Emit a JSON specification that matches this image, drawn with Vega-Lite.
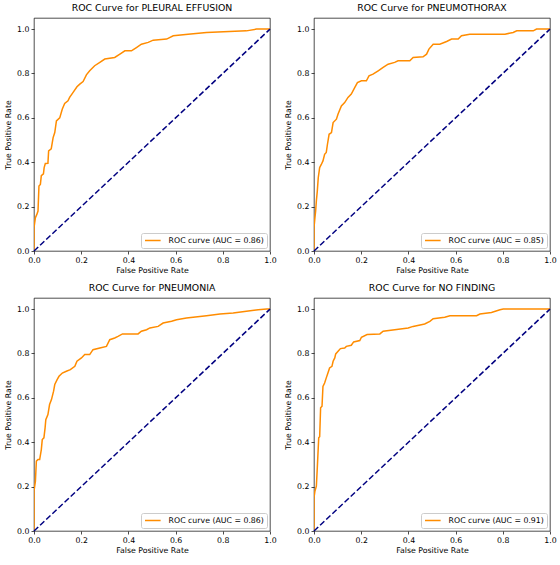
{
  "$schema": "https://vega.github.io/schema/vega-lite/v6.json",
  "background": "white",
  "padding": {"left": 4, "top": 3, "right": 5, "bottom": 5},
  "config": {
    "font": "DejaVu Sans",
    "view": {"stroke": "#000000", "strokeWidth": 0.7},
    "title": {"font": "DejaVu Sans", "fontSize": 9.35, "fontWeight": "normal", "color": "#000000", "anchor": "middle", "baseline": "alphabetic", "offset": 4.7},
    "axis": {
      "grid": false,
      "domain": false,
      "tickColor": "#000000",
      "tickSize": 3,
      "tickWidth": 0.7,
      "labelFont": "DejaVu Sans",
      "labelFontSize": 7.8,
      "labelColor": "#000000",
      "labelPadding": 2,
      "labelFlush": false,
      "titleFont": "DejaVu Sans",
      "titleFontSize": 7.8,
      "titleFontWeight": "normal",
      "titleColor": "#000000",
      "format": ".1f",
      "values": [0, 0.2, 0.4, 0.6, 0.8, 1.0]
    },
    "axisX": {"titlePadding": 3},
    "axisY": {"titlePadding": 4},
    "legend": {
      "orient": "bottom-right",
      "offset": 3,
      "padding": 3,
      "strokeColor": "#cccccc",
      "fillColor": "rgba(255,255,255,0.8)",
      "cornerRadius": 2,
      "labelFont": "DejaVu Sans",
      "labelFontSize": 7.8,
      "labelColor": "#000000",
      "labelOffset": 15.6,
      "symbolType": "M-1,0H3.46",
      "symbolSize": 49,
      "symbolStrokeWidth": 1.5,
      "symbolFillColor": "transparent",
      "title": null
    }
  },
  "datasets": {
    "chance": [{"fpr": 0, "tpr": 0}, {"fpr": 1, "tpr": 1}],
    "pleural": [
      {"fpr": 0, "tpr": 0}, {"fpr": 0, "tpr": 0.105}, {"fpr": 0.006, "tpr": 0.15}, {"fpr": 0.012, "tpr": 0.165},
      {"fpr": 0.017, "tpr": 0.18}, {"fpr": 0.021, "tpr": 0.293}, {"fpr": 0.027, "tpr": 0.3}, {"fpr": 0.031, "tpr": 0.34},
      {"fpr": 0.04, "tpr": 0.348}, {"fpr": 0.043, "tpr": 0.376}, {"fpr": 0.048, "tpr": 0.394}, {"fpr": 0.059, "tpr": 0.395},
      {"fpr": 0.062, "tpr": 0.451}, {"fpr": 0.073, "tpr": 0.46}, {"fpr": 0.081, "tpr": 0.511}, {"fpr": 0.088, "tpr": 0.534},
      {"fpr": 0.095, "tpr": 0.586}, {"fpr": 0.109, "tpr": 0.6}, {"fpr": 0.12, "tpr": 0.64}, {"fpr": 0.13, "tpr": 0.665},
      {"fpr": 0.144, "tpr": 0.677}, {"fpr": 0.151, "tpr": 0.692}, {"fpr": 0.165, "tpr": 0.714}, {"fpr": 0.182, "tpr": 0.74},
      {"fpr": 0.194, "tpr": 0.752}, {"fpr": 0.208, "tpr": 0.764}, {"fpr": 0.222, "tpr": 0.794}, {"fpr": 0.236, "tpr": 0.812},
      {"fpr": 0.257, "tpr": 0.835}, {"fpr": 0.279, "tpr": 0.85}, {"fpr": 0.3, "tpr": 0.865}, {"fpr": 0.342, "tpr": 0.872},
      {"fpr": 0.364, "tpr": 0.887}, {"fpr": 0.385, "tpr": 0.902}, {"fpr": 0.413, "tpr": 0.902}, {"fpr": 0.434, "tpr": 0.917},
      {"fpr": 0.455, "tpr": 0.932}, {"fpr": 0.484, "tpr": 0.94}, {"fpr": 0.505, "tpr": 0.95}, {"fpr": 0.562, "tpr": 0.955},
      {"fpr": 0.59, "tpr": 0.97}, {"fpr": 0.653, "tpr": 0.977}, {"fpr": 0.731, "tpr": 0.985}, {"fpr": 0.9, "tpr": 0.992},
      {"fpr": 0.943, "tpr": 1.0}, {"fpr": 1, "tpr": 1.0}
    ],
    "pneumothorax": [
      {"fpr": 0, "tpr": 0}, {"fpr": 0, "tpr": 0.105}, {"fpr": 0.004, "tpr": 0.15}, {"fpr": 0.007, "tpr": 0.18},
      {"fpr": 0.01, "tpr": 0.226}, {"fpr": 0.014, "tpr": 0.27}, {"fpr": 0.018, "tpr": 0.33}, {"fpr": 0.024, "tpr": 0.376},
      {"fpr": 0.031, "tpr": 0.39}, {"fpr": 0.038, "tpr": 0.406}, {"fpr": 0.045, "tpr": 0.436}, {"fpr": 0.052, "tpr": 0.444},
      {"fpr": 0.057, "tpr": 0.481}, {"fpr": 0.064, "tpr": 0.526}, {"fpr": 0.074, "tpr": 0.534}, {"fpr": 0.081, "tpr": 0.579},
      {"fpr": 0.095, "tpr": 0.594}, {"fpr": 0.102, "tpr": 0.617}, {"fpr": 0.116, "tpr": 0.654}, {"fpr": 0.13, "tpr": 0.669},
      {"fpr": 0.144, "tpr": 0.692}, {"fpr": 0.158, "tpr": 0.707}, {"fpr": 0.173, "tpr": 0.737}, {"fpr": 0.184, "tpr": 0.759},
      {"fpr": 0.201, "tpr": 0.767}, {"fpr": 0.222, "tpr": 0.767}, {"fpr": 0.233, "tpr": 0.789}, {"fpr": 0.25, "tpr": 0.797},
      {"fpr": 0.272, "tpr": 0.812}, {"fpr": 0.293, "tpr": 0.827}, {"fpr": 0.314, "tpr": 0.842}, {"fpr": 0.342, "tpr": 0.85},
      {"fpr": 0.356, "tpr": 0.857}, {"fpr": 0.406, "tpr": 0.857}, {"fpr": 0.42, "tpr": 0.872}, {"fpr": 0.462, "tpr": 0.875},
      {"fpr": 0.477, "tpr": 0.887}, {"fpr": 0.487, "tpr": 0.91}, {"fpr": 0.505, "tpr": 0.932}, {"fpr": 0.533, "tpr": 0.932},
      {"fpr": 0.562, "tpr": 0.944}, {"fpr": 0.583, "tpr": 0.955}, {"fpr": 0.611, "tpr": 0.955}, {"fpr": 0.625, "tpr": 0.97},
      {"fpr": 0.66, "tpr": 0.977}, {"fpr": 0.809, "tpr": 0.977}, {"fpr": 0.844, "tpr": 0.985}, {"fpr": 0.859, "tpr": 0.992},
      {"fpr": 0.929, "tpr": 0.992}, {"fpr": 0.943, "tpr": 1.0}, {"fpr": 1, "tpr": 1.0}
    ],
    "pneumonia": [
      {"fpr": 0, "tpr": 0}, {"fpr": 0, "tpr": 0.18}, {"fpr": 0.006, "tpr": 0.225}, {"fpr": 0.01, "tpr": 0.315},
      {"fpr": 0.017, "tpr": 0.322}, {"fpr": 0.024, "tpr": 0.322}, {"fpr": 0.031, "tpr": 0.367}, {"fpr": 0.035, "tpr": 0.412},
      {"fpr": 0.042, "tpr": 0.42}, {"fpr": 0.047, "tpr": 0.465}, {"fpr": 0.05, "tpr": 0.502}, {"fpr": 0.059, "tpr": 0.525},
      {"fpr": 0.066, "tpr": 0.57}, {"fpr": 0.074, "tpr": 0.592}, {"fpr": 0.083, "tpr": 0.63}, {"fpr": 0.088, "tpr": 0.66},
      {"fpr": 0.098, "tpr": 0.682}, {"fpr": 0.106, "tpr": 0.697}, {"fpr": 0.12, "tpr": 0.712}, {"fpr": 0.137, "tpr": 0.72},
      {"fpr": 0.154, "tpr": 0.727}, {"fpr": 0.173, "tpr": 0.742}, {"fpr": 0.182, "tpr": 0.765}, {"fpr": 0.201, "tpr": 0.78},
      {"fpr": 0.215, "tpr": 0.795}, {"fpr": 0.236, "tpr": 0.795}, {"fpr": 0.25, "tpr": 0.817}, {"fpr": 0.279, "tpr": 0.825},
      {"fpr": 0.307, "tpr": 0.832}, {"fpr": 0.321, "tpr": 0.862}, {"fpr": 0.342, "tpr": 0.87}, {"fpr": 0.356, "tpr": 0.877},
      {"fpr": 0.375, "tpr": 0.888}, {"fpr": 0.441, "tpr": 0.888}, {"fpr": 0.455, "tpr": 0.9}, {"fpr": 0.477, "tpr": 0.907},
      {"fpr": 0.491, "tpr": 0.915}, {"fpr": 0.526, "tpr": 0.922}, {"fpr": 0.547, "tpr": 0.937}, {"fpr": 0.583, "tpr": 0.945},
      {"fpr": 0.604, "tpr": 0.952}, {"fpr": 0.646, "tpr": 0.96}, {"fpr": 0.731, "tpr": 0.97}, {"fpr": 0.788, "tpr": 0.978},
      {"fpr": 0.844, "tpr": 0.982}, {"fpr": 0.9, "tpr": 0.99}, {"fpr": 0.95, "tpr": 0.997}, {"fpr": 0.986, "tpr": 1.0},
      {"fpr": 1, "tpr": 1.0}
    ],
    "noFinding": [
      {"fpr": 0, "tpr": 0}, {"fpr": 0, "tpr": 0.15}, {"fpr": 0.004, "tpr": 0.18}, {"fpr": 0.01, "tpr": 0.202},
      {"fpr": 0.014, "tpr": 0.285}, {"fpr": 0.02, "tpr": 0.42}, {"fpr": 0.024, "tpr": 0.425}, {"fpr": 0.028, "tpr": 0.555},
      {"fpr": 0.034, "tpr": 0.562}, {"fpr": 0.038, "tpr": 0.652}, {"fpr": 0.045, "tpr": 0.667}, {"fpr": 0.052, "tpr": 0.69},
      {"fpr": 0.059, "tpr": 0.712}, {"fpr": 0.066, "tpr": 0.735}, {"fpr": 0.076, "tpr": 0.742}, {"fpr": 0.081, "tpr": 0.765},
      {"fpr": 0.088, "tpr": 0.78}, {"fpr": 0.092, "tpr": 0.798}, {"fpr": 0.102, "tpr": 0.81}, {"fpr": 0.112, "tpr": 0.822},
      {"fpr": 0.13, "tpr": 0.825}, {"fpr": 0.137, "tpr": 0.832}, {"fpr": 0.158, "tpr": 0.837}, {"fpr": 0.168, "tpr": 0.852},
      {"fpr": 0.194, "tpr": 0.858}, {"fpr": 0.201, "tpr": 0.873}, {"fpr": 0.225, "tpr": 0.885}, {"fpr": 0.279, "tpr": 0.888},
      {"fpr": 0.293, "tpr": 0.9}, {"fpr": 0.342, "tpr": 0.907}, {"fpr": 0.399, "tpr": 0.915}, {"fpr": 0.42, "tpr": 0.922},
      {"fpr": 0.469, "tpr": 0.933}, {"fpr": 0.491, "tpr": 0.945}, {"fpr": 0.505, "tpr": 0.957}, {"fpr": 0.554, "tpr": 0.963},
      {"fpr": 0.576, "tpr": 0.97}, {"fpr": 0.689, "tpr": 0.97}, {"fpr": 0.703, "tpr": 0.978}, {"fpr": 0.752, "tpr": 0.985},
      {"fpr": 0.788, "tpr": 0.997}, {"fpr": 0.802, "tpr": 1.0}, {"fpr": 1, "tpr": 1.0}
    ]
  },
  "columns": 2,
  "spacing": {"row": 47, "column": 44},
  "bounds": "flush",
  "resolve": {"scale": {"color": "independent"}, "legend": {"color": "independent"}},
  "concat": [
    {
      "title": "ROC Curve for PLEURAL EFFUSION",
      "width": 236, "height": 233,
      "layer": [
        {
          "data": {"name": "pleural"},
          "mark": {"type": "line", "strokeWidth": 1.5, "clip": true},
          "encoding": {
            "x": {"field": "fpr", "type": "quantitative", "scale": {"domain": [0, 1], "nice": false, "zero": false}, "axis": {"title": "False Positive Rate"}},
            "y": {"field": "tpr", "type": "quantitative", "scale": {"domain": [0, 1.05], "nice": false, "zero": false}, "axis": {"title": "True Positive Rate"}},
            "color": {"datum": "ROC curve (AUC = 0.86)", "type": "nominal", "scale": {"range": ["#ff8c00"]}},
            "order": [{"field": "tpr"}, {"field": "fpr"}]
          }
        },
        {
          "data": {"name": "chance"},
          "mark": {"type": "line", "color": "#000080", "strokeWidth": 1.5, "strokeDash": [5.8, 2.6]},
          "encoding": {"x": {"field": "fpr", "type": "quantitative"}, "y": {"field": "tpr", "type": "quantitative"}}
        }
      ]
    },
    {
      "title": "ROC Curve for PNEUMOTHORAX",
      "width": 236, "height": 233,
      "layer": [
        {
          "data": {"name": "pneumothorax"},
          "mark": {"type": "line", "strokeWidth": 1.5, "clip": true},
          "encoding": {
            "x": {"field": "fpr", "type": "quantitative", "scale": {"domain": [0, 1], "nice": false, "zero": false}, "axis": {"title": "False Positive Rate"}},
            "y": {"field": "tpr", "type": "quantitative", "scale": {"domain": [0, 1.05], "nice": false, "zero": false}, "axis": {"title": "True Positive Rate"}},
            "color": {"datum": "ROC curve (AUC = 0.85)", "type": "nominal", "scale": {"range": ["#ff8c00"]}},
            "order": [{"field": "tpr"}, {"field": "fpr"}]
          }
        },
        {
          "data": {"name": "chance"},
          "mark": {"type": "line", "color": "#000080", "strokeWidth": 1.5, "strokeDash": [5.8, 2.6]},
          "encoding": {"x": {"field": "fpr", "type": "quantitative"}, "y": {"field": "tpr", "type": "quantitative"}}
        }
      ]
    },
    {
      "title": "ROC Curve for PNEUMONIA",
      "width": 236, "height": 233,
      "layer": [
        {
          "data": {"name": "pneumonia"},
          "mark": {"type": "line", "strokeWidth": 1.5, "clip": true},
          "encoding": {
            "x": {"field": "fpr", "type": "quantitative", "scale": {"domain": [0, 1], "nice": false, "zero": false}, "axis": {"title": "False Positive Rate"}},
            "y": {"field": "tpr", "type": "quantitative", "scale": {"domain": [0, 1.05], "nice": false, "zero": false}, "axis": {"title": "True Positive Rate"}},
            "color": {"datum": "ROC curve (AUC = 0.86)", "type": "nominal", "scale": {"range": ["#ff8c00"]}},
            "order": [{"field": "tpr"}, {"field": "fpr"}]
          }
        },
        {
          "data": {"name": "chance"},
          "mark": {"type": "line", "color": "#000080", "strokeWidth": 1.5, "strokeDash": [5.8, 2.6]},
          "encoding": {"x": {"field": "fpr", "type": "quantitative"}, "y": {"field": "tpr", "type": "quantitative"}}
        }
      ]
    },
    {
      "title": "ROC Curve for NO FINDING",
      "width": 236, "height": 233,
      "layer": [
        {
          "data": {"name": "noFinding"},
          "mark": {"type": "line", "strokeWidth": 1.5, "clip": true},
          "encoding": {
            "x": {"field": "fpr", "type": "quantitative", "scale": {"domain": [0, 1], "nice": false, "zero": false}, "axis": {"title": "False Positive Rate"}},
            "y": {"field": "tpr", "type": "quantitative", "scale": {"domain": [0, 1.05], "nice": false, "zero": false}, "axis": {"title": "True Positive Rate"}},
            "color": {"datum": "ROC curve (AUC = 0.91)", "type": "nominal", "scale": {"range": ["#ff8c00"]}},
            "order": [{"field": "tpr"}, {"field": "fpr"}]
          }
        },
        {
          "data": {"name": "chance"},
          "mark": {"type": "line", "color": "#000080", "strokeWidth": 1.5, "strokeDash": [5.8, 2.6]},
          "encoding": {"x": {"field": "fpr", "type": "quantitative"}, "y": {"field": "tpr", "type": "quantitative"}}
        }
      ]
    }
  ]
}
